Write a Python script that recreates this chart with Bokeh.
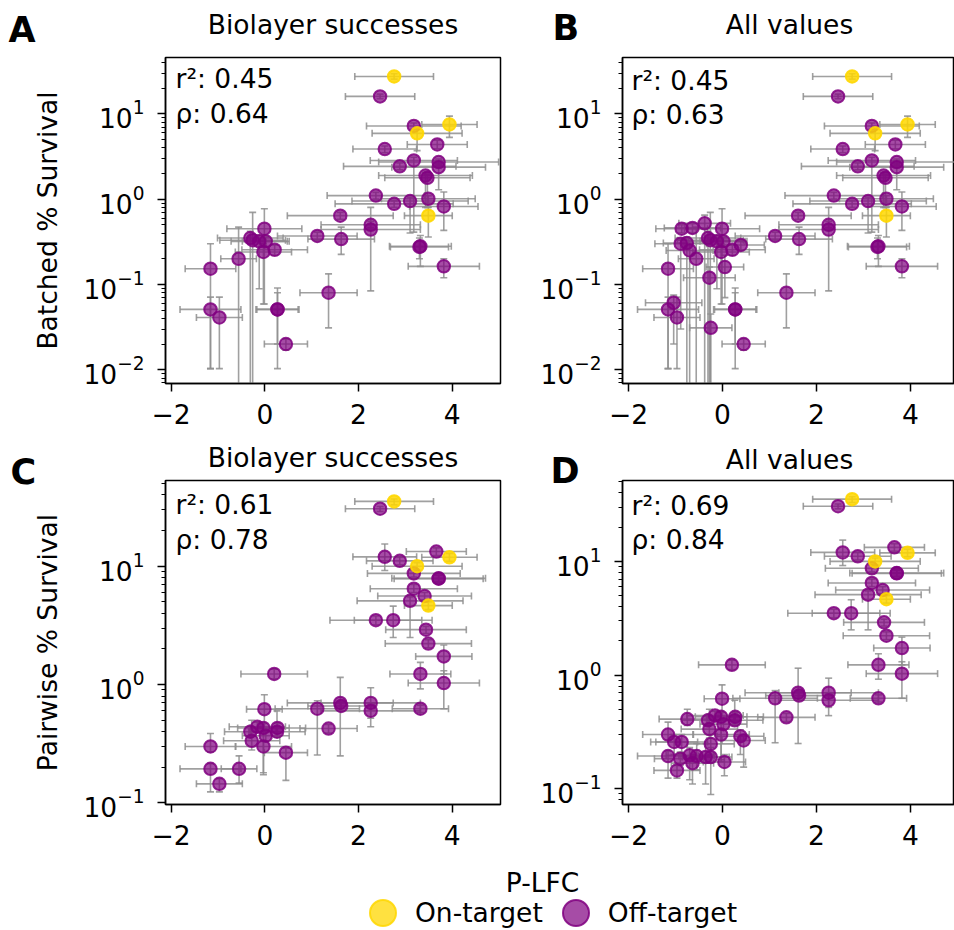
import math
from bokeh.plotting import figure
from bokeh.models import ColumnDataSource, FixedTicker, Label, Legend, LegendItem, Range1d
from bokeh.layouts import column, row
from bokeh.embed import file_html
from bokeh.resources import INLINE

FONT = "DejaVu Sans"
FS = "26.5px"
PURPLE = "#800080"
GOLD = "#FFD700"
ERR = "#8f8f8f"

# ---------------- data ----------------
# Panel A: Biolayer successes, batched % survival
A_x    = [2.76, 2.46, 3.94, 3.18, 3.25, 2.56, 3.68, 3.18, 3.71, 3.71, 2.88, 3.43, 3.47, 2.37, 2.76, 3.10, 3.49, 3.82, 3.49, 1.61,
          2.26, 2.26, 1.12, 1.63, 3.32, 3.30, 3.82, -0.01, -0.31, -0.26, -0.12, 0.02, -0.03, 0.21, -0.56, -1.16, 1.36, -1.16, -0.97, 0.27,
          0.27, 0.45]
A_xerr = [0.84, 0.74, 0.59, 1.01, 0.96, 0.68, 0.64, 0.93, 1.28, 1.00, 1.20, 1.00, 0.91, 1.04, 1.26, 1.24, 1.00, 0.73, 0.51, 1.13,
          1.06, 1.06, 0.85, 0.71, 0.66, 0.62, 0.76, 0.80, 0.70, 0.70, 0.60, 0.50, 0.60, 0.70, 0.38, 0.54, 0.61, 0.65, 0.49, 0.46,
          0.44, 0.46]
A_y    = [27.4, 16.0, 7.5, 7.2, 5.9, 3.86, 4.37, 2.84, 2.72, 2.37, 2.42, 1.89, 1.78, 1.10, 0.88, 0.95, 1.01, 0.82, 0.64, 0.64,
          0.50, 0.44, 0.37, 0.34, 0.28, 0.275, 0.163, 0.45, 0.35, 0.33, 0.32, 0.32, 0.24, 0.255, 0.20, 0.153, 0.08, 0.051, 0.041, 0.051,
          0.051, 0.020]
A_ylo  = [25.5, 15.0, 5.3, 6.6, 3.7, 3.5, 3.9, 0.41, 2.5, 1.29, 2.2, 0.8, 0.8, 1.0, 0.8, 0.40, 0.9, 0.43, 0.36, 0.58,
          0.46, 0.084, 0.33, 0.225, 0.163, 0.2, 0.12, 0.059, 0.001, 0.001, 0.089, 0.28, 0.059, 0.22, 0.001, 0.0103, 0.031, 0.0103, 0.0103, 0.0103,
          0.02, 0.017]
A_yhi  = [29.5, 17.0, 9.4, 7.8, 6.5, 4.2, 4.9, 3.1, 2.95, 2.6, 2.65, 2.05, 1.95, 1.2, 0.96, 1.05, 1.1, 1.21, 0.8, 0.7,
          0.55, 0.8, 0.41, 0.47, 0.375, 0.35, 0.2, 0.77, 0.42, 0.70, 0.38, 0.36, 0.3, 0.29, 0.47, 0.3, 0.133, 0.071, 0.071, 0.091,
          0.08, 0.023]
A_on   = [1, 0, 1, 0, 1, 0, 0, 0, 0, 0, 0, 0, 0, 0, 0, 0, 0, 0, 1, 0,
          0, 0, 0, 0, 0, 0, 0, 0, 0, 0, 0, 0, 0, 0, 0, 0, 0, 0, 0, 0,
          0, 0]

# Panel B: All values = panel A points plus these
B_extra_x    = [-0.87, -0.64, -0.38, -0.89, -0.76, -0.70, 0.05, 0.39, -0.28, -1.04, -0.25]
B_extra_xerr = [0.55, 0.60, 0.55, 0.55, 0.50, 0.50, 0.40, 0.50, 0.55, 0.60, 0.45]
B_extra_y    = [0.45, 0.46, 0.52, 0.30, 0.305, 0.25, 0.16, 0.29, 0.12, 0.061, 0.031]
B_extra_ylo  = [0.40, 0.40, 0.001, 0.03, 0.001, 0.001, 0.07, 0.25, 0.001, 0.02, 0.001]
B_extra_yhi  = [0.50, 0.52, 0.65, 0.34, 0.36, 0.30, 0.22, 0.33, 0.16, 0.075, 0.045]
B_extra_on   = [0, 0, 0, 0, 0, 0, 0, 0, 0, 0, 0]

# Panel C: Biolayer successes, pairwise % survival
C_x    = [2.76, 2.46, 3.66, 3.94, 2.56, 2.88, 3.25, 3.18, 3.71, 3.71, 3.18, 3.41, 3.10, 3.49, 2.37, 2.74, 3.44, 3.49, 3.82, 3.32,
          3.82, 0.20, 1.61, 1.63, 2.26, 2.26, 1.12, 3.32, 1.36, -0.01, -0.31, -0.16, -0.03, 0.02, -0.28, 0.27, 0.26, -0.03, 0.45, -1.16,
          -1.16, -0.55, -0.97]
C_xerr = [0.84, 0.74, 0.64, 0.59, 0.68, 0.71, 0.96, 0.99, 1.00, 0.95, 0.93, 1.00, 1.13, 0.51, 0.98, 0.83, 0.86, 0.92, 0.60, 0.65,
          0.76, 0.71, 1.13, 0.71, 1.06, 1.06, 0.90, 0.60, 0.61, 0.38, 0.55, 0.60, 0.55, 0.50, 0.60, 0.60, 0.60, 0.60, 0.46, 0.54,
          0.65, 0.38, 0.49]
C_y    = [35.3, 30.6, 13.3, 11.9, 12.0, 11.1, 10.0, 8.7, 7.9, 7.85, 6.46, 5.6, 5.1, 4.65, 3.5, 3.5, 2.91, 2.22, 1.73, 1.23,
          1.03, 1.23, 0.70, 0.66, 0.70, 0.60, 0.625, 0.625, 0.425, 0.62, 0.40, 0.44, 0.43, 0.37, 0.335, 0.43, 0.40, 0.30, 0.266, 0.30,
          0.194, 0.194, 0.145]
C_ylo  = [33.0, 29.0, 12.3, 11.0, 9.2, 10.3, 9.3, 8.1, 7.4, 7.3, 6.0, 5.2, 2.5, 4.3, 3.2, 2.5, 2.7, 2.05, 1.23, 0.92,
          0.625, 1.12, 0.25, 0.6, 0.52, 0.44, 0.254, 0.58, 0.39, 0.43, 0.36, 0.4, 0.173, 0.33, 0.28, 0.39, 0.36, 0.18, 0.155, 0.27,
          0.124, 0.147, 0.124]
C_yhi  = [37.0, 32.0, 14.3, 12.8, 15.4, 12.0, 10.7, 9.3, 8.4, 8.4, 7.0, 6.0, 5.5, 5.0, 3.8, 4.6, 3.1, 2.4, 2.16, 1.54,
          1.31, 1.35, 1.15, 0.72, 0.94, 0.7, 0.73, 0.67, 0.46, 0.82, 0.44, 0.48, 0.47, 0.41, 0.5, 0.47, 0.6, 0.33, 0.29, 0.386,
          0.215, 0.25, 0.16]
C_on   = [1, 0, 0, 1, 0, 0, 1, 0, 0, 0, 0, 0, 0, 1, 0, 0, 0, 0, 0, 0,
          0, 0, 0, 0, 0, 0, 0, 0, 0, 0, 0, 0, 0, 0, 0, 0, 0, 0, 0, 0,
          0, 0, 0]

# Panel D: All values = panel C points plus these
D_extra_x    = [-0.75, -0.87, -1.03, 0.38, -0.90, -0.70, -0.64, -0.36, -0.25, 0.04, -0.25]
D_extra_xerr = [0.60, 0.55, 0.50, 0.50, 0.55, 0.50, 0.45, 0.50, 0.45, 0.45, 0.50]
D_extra_y    = [0.41, 0.258, 0.258, 0.29, 0.184, 0.197, 0.168, 0.19, 0.19, 0.172, 0.248]
D_extra_ylo  = [0.36, 0.20, 0.20, 0.20, 0.16, 0.12, 0.11, 0.11, 0.089, 0.13, 0.20]
D_extra_yhi  = [0.50, 0.30, 0.30, 0.33, 0.21, 0.23, 0.20, 0.25, 0.23, 0.20, 0.30]
D_extra_on   = [0, 0, 0, 0, 0, 0, 0, 0, 0, 0, 0]

TITLES = {"A": "Biolayer successes", "B": "All values", "C": "Biolayer successes", "D": "All values"}
YLABELS = {"A": "Batched % Survival", "C": "Pairwise % Survival"}
STATS = {"A": ("0.45", "0.64"), "B": ("0.45", "0.63"), "C": ("0.61", "0.78"), "D": ("0.69", "0.84")}
X_TICKS = [-2, 0, 2, 4]
X_TICK_LABELS = ["\u22122", "0", "2", "4"]
Y_TICKS = [0.01, 0.1, 1, 10]
Y_TICK_LABELS = ["10\u207b\u00b2", "10\u207b\u00b9", "10\u2070", "10\u00b9"]
X_LABEL = "P-LFC"
LEGEND_LABELS = ["On-target", "Off-target"]


def make_panel(x, xerr, y, ylo, yhi, on, *, width, height, bl, br, bt, bb, xr, yr,
               ylabel, stats, stats_px, clear_border=False):
    p = figure(width=width, height=height, x_range=Range1d(*xr), y_range=Range1d(*yr),
               y_axis_type="log", output_backend="svg", toolbar_location=None,
               min_border_left=bl, min_border_right=br, min_border_top=bt, min_border_bottom=bb)
    p.grid.visible = False
    p.background_fill_color = "white"
    if clear_border:
        p.border_fill_alpha = 0.0
    else:
        p.border_fill_color = "white"
    p.outline_line_color = "black"
    p.outline_line_width = 1.5
    p.outline_line_alpha = 1.0

    for ax in (p.xaxis[0], p.yaxis[0]):
        ax.major_label_text_font = FONT
        ax.major_label_text_font_size = FS
        ax.major_label_text_color = "black"
        ax.axis_line_width = 1.5
        ax.major_tick_line_width = 1.5
        ax.major_tick_out = 8
        ax.major_tick_in = 0
        ax.minor_tick_out = 4
        ax.minor_tick_in = 0
        ax.minor_tick_line_width = 1.0
    p.xaxis.major_label_standoff = 12
    p.yaxis.major_label_standoff = 13
    p.xaxis.ticker = FixedTicker(ticks=X_TICKS)
    p.xaxis.major_label_overrides = {str(t): s for t, s in zip(X_TICKS, X_TICK_LABELS)}
    minors = [m * 10.0 ** k for k in range(-3, 3) for m in range(2, 10)]
    p.yaxis.ticker = FixedTicker(ticks=Y_TICKS, minor_ticks=minors)
    p.yaxis.major_label_overrides = {str(t): s for t, s in zip(Y_TICKS, Y_TICK_LABELS)}
    if ylabel:
        p.yaxis.axis_label = ylabel
        p.yaxis.axis_label_text_font = FONT
        p.yaxis.axis_label_text_font_size = FS
        p.yaxis.axis_label_text_font_style = "normal"
        p.yaxis.axis_label_text_color = "black"
        p.yaxis.axis_label_standoff = 17

    def src(sel):
        return ColumnDataSource(dict(
            x=[x[i] for i in sel], y=[y[i] for i in sel],
            xl=[x[i] - xerr[i] for i in sel], xu=[x[i] + xerr[i] for i in sel],
            yl=[ylo[i] for i in sel], yu=[yhi[i] for i in sel]))

    idx_all = list(range(len(x)))
    s_all = src(idx_all)
    ekw = dict(line_color=ERR, line_alpha=0.85, line_width=1.6)
    p.segment(x0="xl", y0="y", x1="xu", y1="y", source=s_all, **ekw)
    p.segment(x0="x", y0="yl", x1="x", y1="yu", source=s_all, **ekw)
    p.scatter(x="xl", y="y", marker="dash", angle=math.pi / 2, size=7, source=s_all, **ekw)
    p.scatter(x="xu", y="y", marker="dash", angle=math.pi / 2, size=7, source=s_all, **ekw)
    p.scatter(x="x", y="yl", marker="dash", size=7, source=s_all, **ekw)
    p.scatter(x="x", y="yu", marker="dash", size=7, source=s_all, **ekw)

    s_off = src([i for i in idx_all if not on[i]])
    s_on = src([i for i in idx_all if on[i]])
    p.scatter(x="x", y="y", source=s_off, size=12.5, fill_color=PURPLE, fill_alpha=0.7,
              line_color=PURPLE, line_alpha=0.85, line_width=2)
    p.scatter(x="x", y="y", source=s_on, size=12.5, fill_color=GOLD, fill_alpha=0.85,
              line_color=GOLD, line_alpha=0.9, line_width=2)

    # pixel -> data helpers for the in-frame statistics text (positions are text centres)
    fw = width - bl - br
    fh = height - bt - bb
    ly0, ly1 = math.log10(yr[0]), math.log10(yr[1])

    def dx(px):
        return xr[0] + (px - bl) / fw * (xr[1] - xr[0])

    def dy(py):
        return 10 ** (ly1 - (py - bt) / fh * (ly1 - ly0))

    p.add_layout(Label(x=dx(stats_px[0]), y=dy(stats_px[1]), text="r\u00b2: " + stats[0], text_font=FONT,
                       text_font_size=FS, text_color="black", text_baseline="middle"))
    p.add_layout(Label(x=dx(stats_px[0]), y=dy(stats_px[2]), text="\u03c1: " + stats[1], text_font=FONT,
                       text_font_size=FS, text_color="black", text_baseline="middle"))
    return p


def strip(h):
    s = figure(width=954, height=h, x_range=Range1d(0, 954), y_range=Range1d(0, h),
               output_backend="svg", toolbar_location=None, min_border=0,
               x_axis_location=None, y_axis_location=None)
    s.grid.visible = False
    s.outline_line_color = None
    s.background_fill_color = "white"
    s.border_fill_color = "white"
    return s


def add_text(s, x, y, text, size=FS, bold=False, align="left"):
    s.add_layout(Label(x=x, y=y, text=text, text_font=FONT, text_font_size=size,
                       text_font_style="bold" if bold else "normal", text_color="black",
                       text_align=align, text_baseline="middle"))


# geometry (pixels): left column frame 165..500, right column frame 622..954
LW, RW = 532, 422
LBL, RBL = 165, 90

# top strip (0..55): panel letters A/B and titles; y = distance of text centre from strip bottom
top = strip(55)
add_text(top, 8, 26, "A", size="35px", bold=True)
add_text(top, 552, 27.5, "B", size="35px", bold=True)
add_text(top, 332.5, 31, TITLES["A"], align="center")
add_text(top, 789, 31, TITLES["B"], align="center")

pA = make_panel(A_x, A_xerr, A_y, A_ylo, A_yhi, A_on,
                width=LW, height=381, bl=LBL, br=LW - LBL - 335, bt=2, bb=53,
                xr=(-2.12, 5.03), yr=(0.0069, 45.7),
                ylabel=YLABELS["A"], stats=STATS["A"], stats_px=(175, 23, 58))
pB = make_panel(A_x + B_extra_x, A_xerr + B_extra_xerr, A_y + B_extra_y, A_ylo + B_extra_ylo,
                A_yhi + B_extra_yhi, A_on + B_extra_on,
                width=RW, height=381, bl=RBL, br=0, bt=2, bb=53,
                xr=(-2.13, 4.94), yr=(0.0069, 45.7),
                ylabel=None, stats=STATS["B"], stats_px=(99, 24.5, 59))

# middle strip (436..494, overlapped 15 px by the next row): letters C/D and titles
mid = strip(58)
mid.margin = (0, 0, -15, 0)
add_text(mid, 10, 22.5, "C", size="35px", bold=True)
add_text(mid, 550, 24, "D", size="35px", bold=True)
add_text(mid, 332.5, 37, TITLES["C"], align="center")
add_text(mid, 789, 35, TITLES["D"], align="center")

pC = make_panel(C_x, C_xerr, C_y, C_ylo, C_yhi, C_on,
                width=LW, height=377, bl=LBL, br=LW - LBL - 335, bt=1, bb=52,
                xr=(-2.12, 5.03), yr=(0.097, 53.0),
                ylabel=YLABELS["C"], stats=STATS["C"], stats_px=(175, 25, 60), clear_border=True)
pD = make_panel(C_x + D_extra_x, C_xerr + D_extra_xerr, C_y + D_extra_y, C_ylo + D_extra_ylo,
                C_yhi + D_extra_yhi, C_on + D_extra_on,
                width=RW, height=377, bl=RBL, br=0, bt=1, bb=52,
                xr=(-2.13, 4.94), yr=(0.0727, 51.5),
                ylabel=None, stats=STATS["D"], stats_px=(99, 26, 60), clear_border=True)

# bottom strip (856..930): shared x label + legend
pL = strip(74)
add_text(pL, 542, 48, X_LABEL, align="center")
r_on = pL.scatter(x=[-1000], y=[-1000], fill_color=GOLD, fill_alpha=0.75, line_color=GOLD,
                  line_alpha=0.85, line_width=2)
r_off = pL.scatter(x=[-1000], y=[-1000], fill_color=PURPLE, fill_alpha=0.7, line_color=PURPLE,
                   line_alpha=0.85, line_width=2)
legend = Legend(items=[LegendItem(label=LEGEND_LABELS[0], renderers=[r_on]),
                       LegendItem(label=LEGEND_LABELS[1], renderers=[r_off])],
                orientation="horizontal", location=(350, -15), glyph_width=65, glyph_height=65,
                label_standoff=-10, spacing=0, padding=0, margin=0,
                border_line_color=None, background_fill_alpha=0,
                label_text_font=FONT, label_text_font_size=FS, label_text_color="black")
pL.add_layout(legend)

layout = column(top, row(pA, pB), mid, row(pC, pD), pL)
open("out.html", "w").write(file_html(layout, INLINE))
